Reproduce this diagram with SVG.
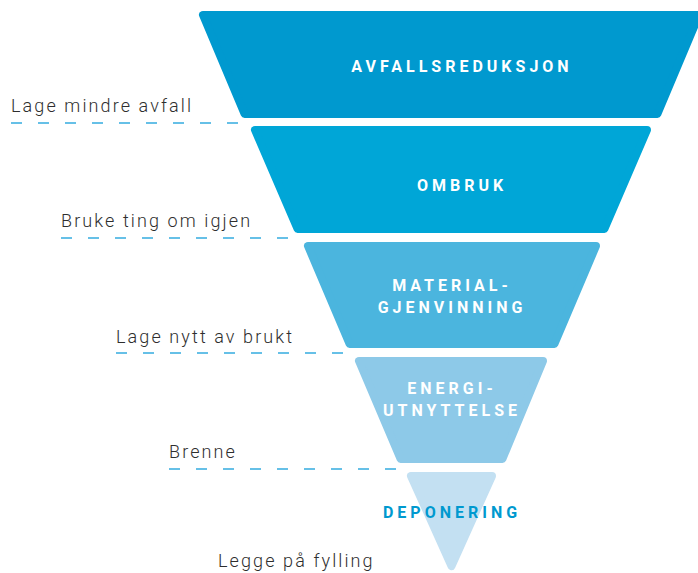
<svg xmlns="http://www.w3.org/2000/svg" width="698" height="573" viewBox="0 0 698 573">
<style>
.layer{stroke-width:8;stroke-linejoin:round}
.t{font-family:Roboto,"Liberation Sans",sans-serif;font-weight:700;font-size:16px;letter-spacing:4px;fill:#ffffff;text-anchor:middle}
.lbl{font-family:Roboto,"Liberation Sans",sans-serif;font-weight:300;font-size:18px;letter-spacing:2.1px;fill:#2e2e2e}
.dash{stroke:#34ace0;stroke-width:1.6;stroke-dasharray:11 16;fill:none}
</style>
<rect width="698" height="573" fill="#ffffff"/>
<g id="avfallsreduksjon">
<path class="layer" d="M203,15 L699,15 L657.4,114 L244.6,114 Z" fill="#0099cf" stroke="#0099cf"/>
<text class="t" x="462" y="72">AVFALLSREDUKSJON</text>
</g>
<g id="ombruk">
<path class="layer" d="M255,130 L647,130 L604.4,229 L297.6,229 Z" fill="#00a6d7" stroke="#00a6d7"/>
<text class="t" x="462" y="191">OMBRUK</text>
</g>
<g id="materialgjenvinning">
<path class="layer" d="M308,246 L596,246 L554.4,344 L349.6,344 Z" fill="#4bb5de" stroke="#4bb5de"/>
<text class="t" x="452" y="291">MATERIAL-</text>
<text class="t" x="452" y="313">GJENVINNING</text>
</g>
<g id="energiutnyttelse">
<path class="layer" d="M359,361 L543,361 L502.4,459 L400.6,459 Z" fill="#8dc9e8" stroke="#8dc9e8"/>
<text class="t" x="452" y="394">ENERGI-</text>
<text class="t" x="452" y="416">UTNYTTELSE</text>
</g>
<g id="deponering">
<path class="layer" d="M411,476 L492,476 L451.5,566 Z" fill="#c3e0f2" stroke="#c3e0f2"/>
<text class="t" x="452" y="518" style="fill:#0099cf">DEPONERING</text>
</g>
<g id="labels">
<text class="lbl" x="11" y="112">Lage mindre avfall</text>
<text class="lbl" x="61" y="227">Bruke ting om igjen</text>
<text class="lbl" x="116" y="343">Lage nytt av brukt</text>
<text class="lbl" x="169" y="458">Brenne</text>
<text class="lbl" x="218" y="567">Legge på fylling</text>
</g>
<g id="connectors">
<line class="dash" x1="11" y1="123" x2="240" y2="123"/>
<line class="dash" x1="61" y1="238" x2="290" y2="238"/>
<line class="dash" x1="116" y1="353" x2="345" y2="353"/>
<line class="dash" x1="169" y1="469" x2="398" y2="469"/>
</g>
</svg>
